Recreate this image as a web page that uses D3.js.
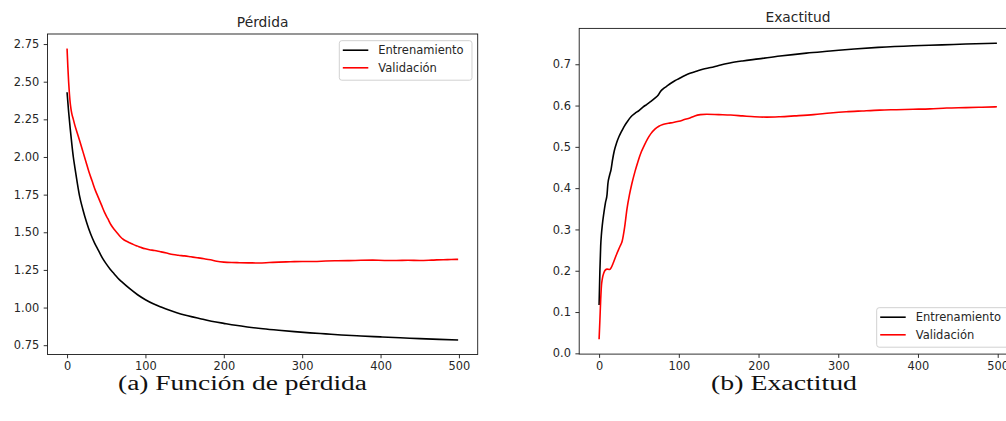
<!DOCTYPE html>
<html>
<head>
<meta charset="utf-8">
<script src="https://cdn.jsdelivr.net/npm/d3@7"></script>
<style>
  html, body { margin: 0; padding: 0; background: #fff; }
  svg { display: block; }
  .tick-label { font-family: "DejaVu Sans", sans-serif; font-size: 11.4px; fill: #262626; }
  .title { font-family: "DejaVu Sans", sans-serif; font-size: 13.8px; fill: #262626; }
  .legend-text { font-family: "DejaVu Sans", sans-serif; font-size: 11.5px; fill: #262626; }
  .caption { font-family: "Liberation Serif", "DejaVu Serif", serif; font-size: 20px; fill: #111; }
</style>
</head>
<body>
<svg id="chart" width="1006" height="421"></svg>
<script>
// Loss per epoch (training / validation)
const lossTrainEpochs = [0,2,4,6,8,10,13,16,20,25,30,35,40,45,50,55,60,65,70,80,90,100,110,120,130,140,150,160,170,180,190,200,215,230,250,270,290,310,330,350,375,400,425,450,475,499];
const lossTrain = [2.43,2.30,2.19,2.09,2.00,1.93,1.83,1.74,1.655,1.565,1.49,1.43,1.38,1.33,1.29,1.255,1.225,1.195,1.17,1.125,1.085,1.052,1.025,1.003,0.983,0.966,0.951,0.938,0.926,0.914,0.904,0.895,0.882,0.871,0.859,0.849,0.840,0.832,0.825,0.818,0.811,0.805,0.799,0.794,0.789,0.785];

const lossValEpochs = [0,1,2,3,4,5,6,8,10,13,16,20,24,28,32,36,40,44,48,52,56,60,64,68,72,76,80,85,90,95,100,105,110,115,120,127,135,142,150,158,166,175,183,191,200,210,220,232,245,258,270,285,300,315,330,345,360,375,390,405,420,435,450,465,480,490,499];
const lossVal = [2.72,2.60,2.50,2.42,2.36,2.32,2.29,2.25,2.21,2.16,2.11,2.04,1.97,1.90,1.84,1.78,1.73,1.68,1.63,1.59,1.55,1.52,1.495,1.47,1.452,1.44,1.43,1.418,1.408,1.398,1.39,1.384,1.38,1.376,1.37,1.362,1.352,1.347,1.343,1.337,1.331,1.324,1.317,1.308,1.302,1.299,1.298,1.297,1.296,1.299,1.302,1.304,1.306,1.306,1.309,1.311,1.312,1.314,1.315,1.313,1.313,1.314,1.313,1.315,1.318,1.319,1.32];

// Accuracy per epoch (training / validation)
const accTrainEpochs = [0,1,2,3,4,6,8,10,11,13,15,17,19,22,25,28,31,35,40,45,50,55,60,65,70,74,77,80,85,90,95,100,107,114,122,130,140,150,164,180,200,227,260,290,320,350,394,430,460,499];
const accTrain = [0.117,0.20,0.26,0.29,0.31,0.34,0.365,0.385,0.41,0.43,0.445,0.47,0.49,0.51,0.525,0.537,0.548,0.56,0.573,0.581,0.588,0.596,0.603,0.61,0.618,0.625,0.634,0.64,0.647,0.654,0.66,0.665,0.672,0.678,0.683,0.688,0.692,0.697,0.703,0.708,0.713,0.72,0.727,0.732,0.737,0.741,0.745,0.747,0.749,0.751];

const accValEpochs = [0,1,2,3,4,6,8,10,13,15,18,22,26,29,32,35,38,41,45,49,53,57,61,65,70,75,80,87,93,100,107,114,120,127,135,150,165,180,195,210,227,245,269,290,310,330,352,373,394,415,436,460,480,499];
const accVal = [0.034,0.08,0.13,0.165,0.18,0.195,0.202,0.204,0.203,0.207,0.22,0.24,0.258,0.272,0.305,0.35,0.383,0.41,0.44,0.466,0.488,0.505,0.52,0.532,0.543,0.55,0.554,0.557,0.559,0.562,0.566,0.57,0.575,0.578,0.579,0.578,0.577,0.575,0.573,0.572,0.573,0.575,0.578,0.582,0.585,0.587,0.589,0.59,0.591,0.592,0.594,0.595,0.596,0.597];

const xTicks = [0,100,200,300,400,500];
const lossTicks = [0.75,1.00,1.25,1.50,1.75,2.00,2.25,2.50,2.75];
const accTicks = [0.0,0.1,0.2,0.3,0.4,0.5,0.6,0.7];
const seriesNames = ["Entrenamiento", "Validación"];
const seriesColors = ["#000000", "#ff0000"];
const panelTitles = ["Pérdida", "Exactitud"];
const captions = ["(a) Función de pérdida", "(b) Exactitud"];

const svg = d3.select("#chart");

function pad(ext, frac) {
  const d = (ext[1] - ext[0]) * frac;
  return [ext[0] - d, ext[1] + d];
}

function drawPanel(cfg) {
  const g = svg.append("g");
  const x = d3.scaleLinear().domain(pad([0, 499], 0.05)).range([cfg.left, cfg.right]);
  const allY = cfg.series.flatMap(s => s.values);
  const y = d3.scaleLinear().domain(pad(d3.extent(allY), 0.05)).range([cfg.bottom, cfg.top]);

  const line = d3.line()
    .x(d => x(d[0]))
    .y(d => y(d[1]))
    .curve(d3.curveMonotoneX);

  cfg.series.forEach((s, i) => {
    g.append("path")
      .datum(d3.zip(s.epochs, s.values))
      .attr("fill", "none")
      .attr("stroke", seriesColors[i])
      .attr("stroke-width", 1.6)
      .attr("stroke-linejoin", "round")
      .attr("d", line);
  });

  // Frame
  g.append("rect")
    .attr("x", cfg.left).attr("y", cfg.top)
    .attr("width", cfg.right - cfg.left).attr("height", cfg.bottom - cfg.top)
    .attr("fill", "none").attr("stroke", "#1a1a1a").attr("stroke-width", 0.9);

  // Axes
  const xAxis = d3.axisBottom(x).tickValues(xTicks).tickSize(3.8).tickPadding(4).tickFormat(d3.format("d"));
  const gx = g.append("g").attr("transform", `translate(0,${cfg.bottom})`).call(xAxis);
  const yAxis = d3.axisLeft(y).tickValues(cfg.yTicks).tickSize(3.8).tickPadding(4.5).tickFormat(d3.format(cfg.yFormat));
  const gy = g.append("g").attr("transform", `translate(${cfg.left},0)`).call(yAxis);
  [gx, gy].forEach(a => {
    a.select(".domain").remove();
    a.selectAll(".tick line").attr("stroke", "#1a1a1a").attr("stroke-width", 0.9);
    a.selectAll(".tick text").attr("class", "tick-label").attr("fill", null);
    a.attr("font-family", null).attr("font-size", null);
  });

  // Title
  g.append("text").attr("class", "title")
    .attr("x", (cfg.left + cfg.right) / 2).attr("y", cfg.top - 6.8)
    .attr("text-anchor", "middle").text(cfg.title);

  // Legend
  const lg = g.append("g").attr("transform", `translate(${cfg.legendX},${cfg.legendY})`);
  lg.append("rect").attr("width", 132.7).attr("height", 39.5).attr("rx", 2.5)
    .attr("fill", "#fff").attr("fill-opacity", 0.8)
    .attr("stroke", "#cccccc").attr("stroke-width", 0.9);
  seriesNames.forEach((name, i) => {
    const cy = 9.5 + i * 17.6;
    lg.append("line").attr("x1", 3.5).attr("x2", 29).attr("y1", cy).attr("y2", cy)
      .attr("stroke", seriesColors[i]).attr("stroke-width", 1.6);
    lg.append("text").attr("class", "legend-text")
      .attr("x", 39).attr("y", cy + 4.1).text(name);
  });

  // Caption
  svg.append("text").attr("class", "caption")
    .attr("x", cfg.captionX).attr("y", 390)
    .attr("text-anchor", "middle")
    .attr("textLength", cfg.captionWidth).attr("lengthAdjust", "spacingAndGlyphs")
    .text(cfg.caption);
}

drawPanel({
  left: 47.5, right: 477.7, top: 34, bottom: 354.5,
  series: [
    { epochs: lossTrainEpochs, values: lossTrain },
    { epochs: lossValEpochs, values: lossVal }
  ],
  yTicks: lossTicks, yFormat: ".2f",
  title: panelTitles[0],
  legendX: 339.3, legendY: 40.7,
  caption: captions[0], captionX: 242.5, captionWidth: 249
});

drawPanel({
  left: 579.2, right: 1016.8, top: 28.4, bottom: 354.1,
  series: [
    { epochs: accTrainEpochs, values: accTrain },
    { epochs: accValEpochs, values: accVal }
  ],
  yTicks: accTicks, yFormat: ".1f",
  title: panelTitles[1],
  legendX: 876.7, legendY: 307.7,
  caption: captions[1], captionX: 784, captionWidth: 146
});
</script>
</body>
</html>
